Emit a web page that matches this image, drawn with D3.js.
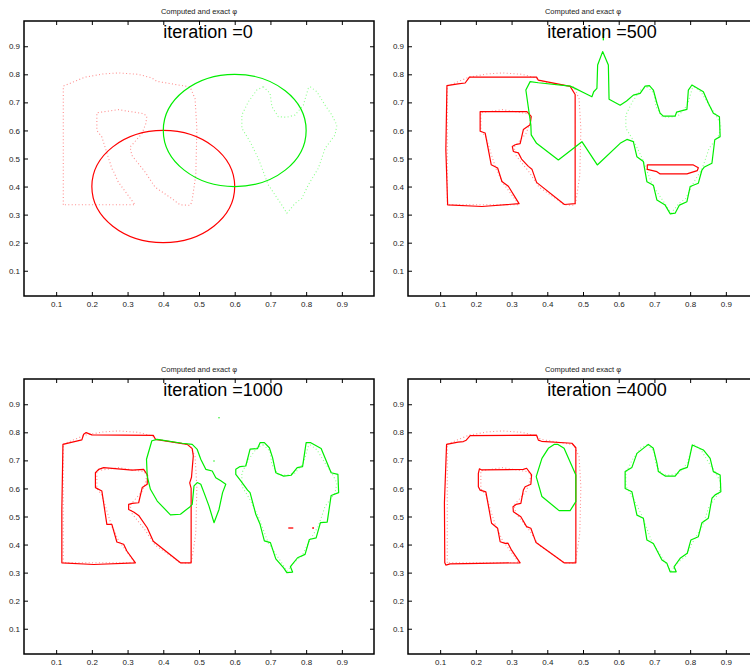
<!DOCTYPE html>
<html><head><meta charset="utf-8">
<script src="https://cdn.jsdelivr.net/npm/d3@7"></script>
<style>body{margin:0;background:#fff}svg{display:block;font-family:"Liberation Sans",Arial,sans-serif}</style>
</head><body>
<script>
// ---------- data ----------
const iterations = [0, 500, 1000, 4000];
const tickValues = [0.1,0.2,0.3,0.4,0.5,0.6,0.7,0.8,0.9];
const titleText = "Computed and exact \u03c6";

// exact interfaces (dotted)
const exactRed = [[0.120,0.335],[0.120,0.758],[0.181,0.790],[0.230,0.801],[0.274,0.805],[0.330,0.800],[0.368,0.787],[0.382,0.775],[0.475,0.755],[0.489,0.713],[0.494,0.606],[0.491,0.440],[0.480,0.345],[0.475,0.333],[0.447,0.335],[0.424,0.357],[0.377,0.398],[0.349,0.452],[0.312,0.511],[0.307,0.541],[0.340,0.588],[0.351,0.624],[0.354,0.651],[0.344,0.660],[0.274,0.674],[0.214,0.663],[0.214,0.600],[0.228,0.577],[0.256,0.464],[0.260,0.456],[0.274,0.416],[0.288,0.392],[0.321,0.335]];
const exactGreen = [[0.680,0.756],[0.699,0.732],[0.704,0.685],[0.722,0.649],[0.746,0.647],[0.769,0.655],[0.792,0.690],[0.806,0.750],[0.811,0.756],[0.830,0.738],[0.853,0.690],[0.872,0.655],[0.886,0.619],[0.881,0.584],[0.853,0.536],[0.834,0.465],[0.806,0.406],[0.788,0.358],[0.769,0.340],[0.746,0.305],[0.732,0.334],[0.694,0.406],[0.680,0.453],[0.666,0.500],[0.643,0.560],[0.620,0.608],[0.620,0.655],[0.638,0.702],[0.662,0.744]];

// iteration 0: initial circles (centre x, centre y, radius)
const initRed = [0.4, 0.4, 0.2];
const initGreen = [0.6, 0.6, 0.2];

// iteration 500
const red500 = [[0.119,0.760],[0.150,0.766],[0.170,0.769],[0.182,0.790],[0.370,0.790],[0.375,0.779],[0.464,0.757],[0.478,0.728],[0.478,0.339],[0.448,0.336],[0.370,0.415],[0.357,0.462],[0.347,0.472],[0.328,0.498],[0.319,0.520],[0.305,0.525],[0.302,0.543],[0.310,0.549],[0.324,0.553],[0.333,0.603],[0.352,0.620],[0.355,0.650],[0.343,0.667],[0.212,0.667],[0.212,0.597],[0.226,0.591],[0.243,0.478],[0.261,0.466],[0.273,0.418],[0.291,0.401],[0.321,0.339],[0.217,0.329],[0.121,0.335],[0.116,0.531]];
const redLens500 = [[0.680,0.477],[0.809,0.477],[0.823,0.467],[0.820,0.457],[0.791,0.445],[0.716,0.445],[0.707,0.453],[0.680,0.461]];
const green500 = [[0.340,0.744],[0.352,0.774],[0.375,0.770],[0.464,0.758],[0.478,0.750],[0.501,0.735],[0.525,0.720],[0.530,0.738],[0.539,0.750],[0.541,0.833],[0.555,0.881],[0.571,0.833],[0.573,0.711],[0.604,0.690],[0.622,0.705],[0.641,0.726],[0.660,0.732],[0.674,0.758],[0.686,0.760],[0.697,0.744],[0.707,0.697],[0.716,0.661],[0.725,0.651],[0.758,0.651],[0.762,0.665],[0.791,0.675],[0.795,0.744],[0.805,0.762],[0.837,0.738],[0.851,0.697],[0.865,0.661],[0.882,0.649],[0.884,0.578],[0.869,0.567],[0.861,0.483],[0.840,0.470],[0.833,0.459],[0.823,0.412],[0.800,0.400],[0.791,0.346],[0.770,0.334],[0.758,0.305],[0.744,0.303],[0.730,0.334],[0.707,0.352],[0.697,0.405],[0.679,0.417],[0.669,0.489],[0.651,0.506],[0.641,0.560],[0.623,0.568],[0.604,0.554],[0.540,0.477],[0.497,0.560],[0.431,0.495],[0.370,0.554],[0.355,0.584],[0.354,0.619]];
const greenSpike500 = [[0.557,0.921],[0.557,0.948]];

// iteration 1000
const red1000 = [[0.119,0.757],[0.172,0.773],[0.177,0.793],[0.184,0.799],[0.200,0.791],[0.372,0.789],[0.378,0.775],[0.467,0.757],[0.481,0.742],[0.484,0.716],[0.479,0.640],[0.474,0.620],[0.478,0.600],[0.478,0.335],[0.448,0.335],[0.372,0.412],[0.355,0.460],[0.331,0.504],[0.317,0.516],[0.303,0.525],[0.303,0.543],[0.313,0.547],[0.331,0.549],[0.341,0.603],[0.355,0.615],[0.356,0.647],[0.345,0.668],[0.313,0.665],[0.233,0.674],[0.219,0.668],[0.210,0.656],[0.210,0.603],[0.228,0.591],[0.242,0.472],[0.256,0.472],[0.270,0.409],[0.289,0.401],[0.298,0.377],[0.322,0.335],[0.205,0.329],[0.116,0.335],[0.116,0.525]];
const redBits1000 = [[[0.750,0.459],[0.764,0.459]],[[0.817,0.459],[0.822,0.459]]];
const greenLeft1000 = [[0.368,0.770],[0.383,0.775],[0.453,0.761],[0.481,0.757],[0.495,0.739],[0.505,0.704],[0.519,0.668],[0.537,0.662],[0.547,0.638],[0.561,0.627],[0.575,0.615],[0.566,0.585],[0.556,0.525],[0.542,0.478],[0.528,0.537],[0.514,0.585],[0.505,0.615],[0.495,0.621],[0.486,0.609],[0.481,0.543],[0.475,0.535],[0.448,0.508],[0.420,0.506],[0.383,0.555],[0.364,0.597],[0.355,0.644],[0.353,0.704]];
const greenHeart1000 = [[0.603,0.668],[0.615,0.678],[0.631,0.680],[0.643,0.740],[0.664,0.742],[0.671,0.763],[0.683,0.763],[0.697,0.745],[0.706,0.710],[0.715,0.656],[0.737,0.644],[0.758,0.647],[0.775,0.674],[0.790,0.678],[0.800,0.763],[0.813,0.763],[0.842,0.742],[0.870,0.656],[0.889,0.650],[0.891,0.585],[0.870,0.575],[0.859,0.480],[0.840,0.478],[0.828,0.424],[0.809,0.418],[0.797,0.365],[0.776,0.353],[0.756,0.321],[0.762,0.302],[0.746,0.300],[0.737,0.317],[0.715,0.349],[0.700,0.407],[0.683,0.413],[0.671,0.472],[0.659,0.508],[0.643,0.585],[0.636,0.594],[0.617,0.627],[0.603,0.650]];
const greenDots1000 = [[0.556,0.852],[0.542,0.698]];

// iteration 4000
const red4000 = [[0.118,0.757],[0.150,0.765],[0.165,0.767],[0.173,0.772],[0.184,0.788],[0.370,0.790],[0.375,0.772],[0.384,0.768],[0.469,0.761],[0.480,0.745],[0.480,0.335],[0.447,0.335],[0.3685,0.407],[0.354,0.458],[0.342,0.464],[0.326,0.499],[0.305,0.517],[0.304,0.535],[0.3125,0.543],[0.326,0.547],[0.333,0.594],[0.338,0.606],[0.354,0.615],[0.356,0.648],[0.342,0.672],[0.333,0.668],[0.216,0.666],[0.210,0.670],[0.207,0.654],[0.207,0.606],[0.212,0.594],[0.228,0.588],[0.244,0.476],[0.261,0.458],[0.268,0.410],[0.282,0.404],[0.290,0.405],[0.300,0.380],[0.324,0.335],[0.128,0.331],[0.116,0.327],[0.113,0.335],[0.112,0.550]];
const greenLoop4000 = [[0.419,0.757],[0.430,0.757],[0.447,0.743],[0.480,0.648],[0.480,0.553],[0.464,0.521],[0.433,0.521],[0.385,0.571],[0.369,0.642],[0.385,0.707],[0.403,0.743]];
const greenHeart4000 = [[0.683,0.757],[0.697,0.743],[0.707,0.690],[0.711,0.660],[0.730,0.644],[0.758,0.644],[0.772,0.666],[0.792,0.675],[0.795,0.690],[0.806,0.755],[0.837,0.737],[0.856,0.707],[0.865,0.660],[0.884,0.648],[0.886,0.588],[0.870,0.577],[0.861,0.565],[0.851,0.494],[0.833,0.478],[0.823,0.428],[0.802,0.416],[0.792,0.369],[0.772,0.351],[0.755,0.321],[0.761,0.303],[0.744,0.303],[0.735,0.333],[0.721,0.345],[0.697,0.404],[0.679,0.416],[0.669,0.494],[0.651,0.505],[0.637,0.588],[0.618,0.600],[0.618,0.660],[0.637,0.675],[0.651,0.725]];

// ---------- drawing ----------
const RED = "#ff0000", GREEN = "#00ee00";
const W = 750, H = 667, PW = 350, PH = 275;
const origins = [[24,21],[408,21],[24,379],[408,379]];

const svg = d3.select("body").append("svg").attr("width", W).attr("height", H);

const panelCurves = [
  {closed:[], open:[], dots:[]},
  {closed:[[red500,RED],[redLens500,RED],[green500,GREEN]], open:[[greenSpike500,GREEN]], dots:[]},
  {closed:[[red1000,RED],[greenLeft1000,GREEN],[greenHeart1000,GREEN]], open:redBits1000.map(d=>[d,RED]), dots:greenDots1000.map(d=>[d,GREEN])},
  {closed:[[red4000,RED],[greenLoop4000,GREEN],[greenHeart4000,GREEN]], open:[], dots:[]}
];

iterations.forEach((it, i) => {
  const [ox, oy] = origins[i];
  const g = svg.append("g").attr("transform", `translate(${ox},${oy})`);
  const x = d3.scaleLinear().domain([0.01, 0.99]).range([0, PW]);
  const y = d3.scaleLinear().domain([0.01, 0.99]).range([PH, 0]);
  const line = d3.line().x(d => x(d[0])).y(d => y(d[1]));
  const lineC = d3.line().x(d => x(d[0])).y(d => y(d[1])).curve(d3.curveLinearClosed);

  const cid = "clip" + i;
  g.append("clipPath").attr("id", cid).append("rect").attr("width", PW).attr("height", PH);
  const plot = g.append("g").attr("clip-path", `url(#${cid})`);

  // exact interfaces, dotted
  plot.append("path").attr("d", lineC(exactRed)).attr("fill", "none")
    .attr("stroke", "#ff8c8c").attr("stroke-width", 1.1).attr("stroke-dasharray", "1,2.4");
  plot.append("path").attr("d", lineC(exactGreen)).attr("fill", "none")
    .attr("stroke", "#8cff8c").attr("stroke-width", 1.1).attr("stroke-dasharray", "1,2.4");

  if (i === 0) {
    [[initRed, RED], [initGreen, GREEN]].forEach(([c, col]) => {
      plot.append("ellipse")
        .attr("cx", x(c[0])).attr("cy", y(c[1]))
        .attr("rx", x(c[0] + c[2]) - x(c[0])).attr("ry", y(c[1]) - y(c[1] + c[2]))
        .attr("fill", "none").attr("stroke", col).attr("stroke-width", 1.2);
    });
  }
  const pc = panelCurves[i];
  pc.closed.forEach(([pts, col]) => plot.append("path").attr("d", lineC(pts))
    .attr("fill", "none").attr("stroke", col).attr("stroke-width", 1.2).attr("stroke-linejoin", "round"));
  pc.open.forEach(([pts, col]) => plot.append("path").attr("d", line(pts))
    .attr("fill", "none").attr("stroke", col).attr("stroke-width", 1.3));
  pc.dots.forEach(([p, col]) => plot.append("circle").attr("cx", x(p[0])).attr("cy", y(p[1]))
    .attr("r", 0.7).attr("fill", col));

  // axes (inward ticks on all sides)
  const fmt = d3.format(".1f");
  const styleAxis = a => {
    a.select(".domain").remove();
    a.selectAll("line").attr("stroke", "#000");
    a.selectAll("text").attr("font-size", 8).attr("fill", "#222")
      .attr("font-family", '"Liberation Sans",Arial,sans-serif');
  };
  g.append("g").attr("transform", `translate(0,${PH})`)
    .call(d3.axisBottom(x).tickValues(tickValues).tickFormat(fmt).tickSize(-4).tickPadding(5)).call(styleAxis);
  g.append("g")
    .call(d3.axisLeft(y).tickValues(tickValues).tickFormat(fmt).tickSize(-4).tickPadding(4)).call(styleAxis);
  g.append("g")
    .call(d3.axisTop(x).tickValues(tickValues).tickFormat("").tickSize(-4)).call(styleAxis);
  g.append("g").attr("transform", `translate(${PW},0)`)
    .call(d3.axisRight(y).tickValues(tickValues).tickFormat("").tickSize(-4)).call(styleAxis);

  g.append("rect").attr("width", PW).attr("height", PH)
    .attr("fill", "none").attr("stroke", "#000").attr("stroke-width", 1.5);

  g.append("text").attr("x", PW / 2).attr("y", -7).attr("text-anchor", "middle")
    .attr("font-size", 7.5).attr("fill", "#222").text(titleText);

  g.append("text").attr("x", x(0.4)).attr("y", y(0.95)).attr("dy", "0.33em")
    .attr("font-size", 18).attr("fill", "#000").text("iteration =" + it);
});
</script>
</body></html>
